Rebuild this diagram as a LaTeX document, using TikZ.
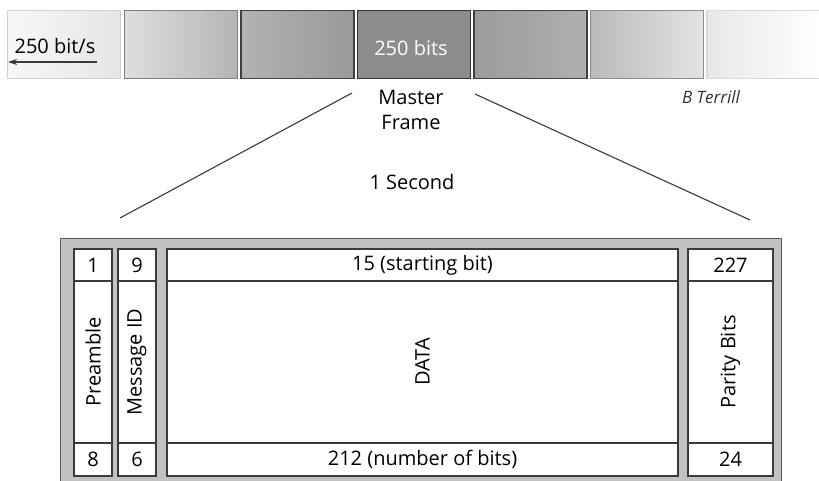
\documentclass[tikz,border=0pt]{standalone}
\usepackage{fontspec}
\setmainfont{Open Sans}
\usetikzlibrary{arrows.meta}
\definecolor{boxgray}{HTML}{C2C2C2}
\definecolor{edge}{HTML}{3A3A3A}
\begin{document}
\begin{tikzpicture}[x=1pt,y=-1pt,
  topcell/.style={draw=#1, line width=1.1pt, minimum width=113pt, minimum height=68pt, inner sep=0pt, outer sep=0pt},
  fcell/.style={draw=edge, fill=white, line width=1.3pt, inner sep=0pt, outer sep=0pt},
  lbl/.style={font=\fontsize{20}{24}\selectfont, inner sep=0pt, text=black},
  conn/.style={draw=edge, line width=1.1pt}]
\useasboundingbox (0,0) rectangle (819,481);
\clip (0,0) rectangle (819,481);
\fill[white] (0,0) rectangle (819,481);

% top strip
\node[topcell=black!18, shade, left color=black!3, right color=black!10] (c1) at (64,44.5) {};
\node[topcell=black!50, shade, left color=black!13, right color=black!29] (c2) at (181,44.5) {};
\node[topcell=black!75, shade, left color=black!30, right color=black!40] (c3) at (297.5,44.5) {};
\node[topcell=black!80, fill=black!45] (c4) at (414,44.5) {};
\node[topcell=black!75, shade, left color=black!39, right color=black!31] (c5) at (530.5,44.5) {};
\node[topcell=black!45, shade, left color=black!27, right color=black!11] (c6) at (647,44.5) {};
\node[topcell=black!15, shade, left color=black!9, right color=white] (c7) at (763.5,44.5) {};

\node[lbl] (rate) at (55,46) {250 bit/s};
\coordinate (a1) at (97,62);
\coordinate (a2) at (8,62);
\draw[conn, line width=1.2pt, -{Stealth[length=9pt,width=6pt]}] (a1) -- (a2);
\node[lbl, text=white] (bits) at (411,48) {250 bits};

\node[lbl, align=center, font=\fontsize{20}{25}\selectfont] (mf) at (411,110) {Master\\Frame};
\node[lbl] (sec) at (412,182) {1 Second};
\node[inner sep=0pt, text=black!80, font=\fontsize{17}{19}\selectfont\itshape] (auth) at (711,97) {B Terrill};

\coordinate (l1) at (352,93);
\coordinate (l2) at (120,218);
\coordinate (r1) at (475,94);
\coordinate (r2) at (750,220);
\draw[conn] (l1) -- (l2);
\draw[conn] (r1) -- (r2);

% bottom frame
\node[draw=black!65, fill=boxgray, line width=1.3pt, minimum width=721pt, minimum height=260pt, anchor=north west, inner sep=0pt] (frame) at (60,238) {};

% Preamble column
\node[fcell, minimum width=38pt, minimum height=32pt] (p1) at (93,265) {};
\node[fcell, minimum width=38pt, minimum height=162pt] (pm) at (93,362) {};
\node[fcell, minimum width=38pt, minimum height=33pt] (p2) at (93,459.5) {};
% Message ID column
\node[fcell, minimum width=38pt, minimum height=32pt] (m1) at (137,265) {};
\node[fcell, minimum width=38pt, minimum height=162pt] (mm) at (137,362) {};
\node[fcell, minimum width=38pt, minimum height=33pt] (m2) at (137,459.5) {};
% DATA column
\node[fcell, minimum width=511pt, minimum height=32pt] (d1) at (422.5,265) {};
\node[fcell, minimum width=511pt, minimum height=162pt] (dm) at (422.5,362) {};
\node[fcell, minimum width=511pt, minimum height=33pt] (d2) at (422.5,459.5) {};
% Parity column
\node[fcell, minimum width=85pt, minimum height=32pt] (q1) at (730.5,265) {};
\node[fcell, minimum width=85pt, minimum height=162pt] (qm) at (730.5,362) {};
\node[fcell, minimum width=85pt, minimum height=33pt] (q2) at (730.5,459.5) {};

\node[lbl] at (p1) {1};
\node[lbl] at (m1) {9};
\node[lbl] at (d1) {15 (starting bit)};
\node[lbl] at (q1) {227};
\node[lbl] at (p2) {8};
\node[lbl] at (m2) {6};
\node[lbl] at (d2) {212 (number of bits)};
\node[lbl] at (q2) {24};
\node[lbl, rotate=90] at (pm) {Preamble};
\node[lbl, rotate=90] at (mm) {Message ID};
\node[lbl, rotate=90] at (dm) {DATA};
\node[lbl, rotate=90] at (qm) {Parity Bits};
\end{tikzpicture}
\end{document}
